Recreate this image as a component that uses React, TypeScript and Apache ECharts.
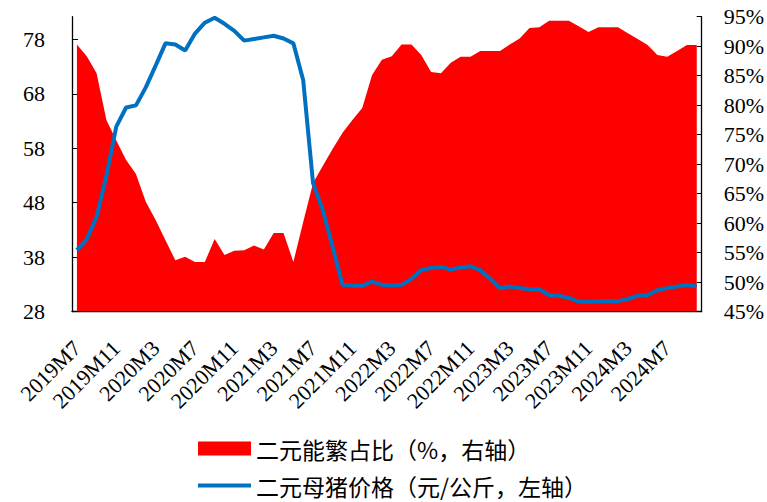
import React, { useEffect, useRef } from "react";
import * as echarts from "echarts";

const months: string[] = [
  "2019M7","2019M8","2019M9","2019M10","2019M11","2019M12",
  "2020M1","2020M2","2020M3","2020M4","2020M5","2020M6","2020M7","2020M8","2020M9","2020M10","2020M11","2020M12",
  "2021M1","2021M2","2021M3","2021M4","2021M5","2021M6","2021M7","2021M8","2021M9","2021M10","2021M11","2021M12",
  "2022M1","2022M2","2022M3","2022M4","2022M5","2022M6","2022M7","2022M8","2022M9","2022M10","2022M11","2022M12",
  "2023M1","2023M2","2023M3","2023M4","2023M5","2023M6","2023M7","2023M8","2023M9","2023M10","2023M11","2023M12",
  "2024M1","2024M2","2024M3","2024M4","2024M5","2024M6","2024M7","2024M8","2024M9","2024M10",
];

// 二元能繁占比 (%, right axis)
const sowShare: number[] = [
  90.3, 88.3, 85.4, 77.5, 74.0, 70.7, 68.3, 63.6, 60.5, 57.1,
  53.7, 54.3, 53.4, 53.4, 57.3, 54.6, 55.3, 55.4, 56.2, 55.5,
  58.3, 58.3, 53.4, 60.2, 66.8, 69.7, 72.6, 75.3, 77.5, 79.5,
  85.1, 87.7, 88.3, 90.3, 90.3, 88.5, 85.6, 85.4, 87.2, 88.2,
  88.2, 89.2, 89.2, 89.2, 90.3, 91.3, 93.1, 93.2, 94.3, 94.3,
  94.3, 93.4, 92.4, 93.2, 93.2, 93.2, 92.2, 91.2, 90.2, 88.5,
  88.2, 89.2, 90.2, 90.2,
];

// 二元母猪价格 (元/公斤, left axis)
const sowPrice: number[] = [
  39.3, 41.3, 45.4, 53.0, 62.0, 65.5, 65.9, 69.2, 73.2, 77.3,
  77.1, 76.0, 79.1, 81.1, 82.0, 80.9, 79.6, 77.8, 78.1, 78.4,
  78.7, 78.2, 77.3, 70.5, 51.6, 46.6, 39.8, 32.9, 32.8, 32.7,
  33.5, 32.9, 32.8, 32.9, 34.0, 35.6, 36.0, 36.2, 35.7, 36.1,
  36.3, 35.6, 34.0, 32.3, 32.6, 32.3, 32.1, 32.1, 31.0, 30.9,
  30.5, 29.8, 29.8, 29.9, 29.9, 29.9, 30.3, 30.9, 31.0, 31.9,
  32.3, 32.6, 32.9, 32.6,
];

const leftTicks: number[] = [28, 38, 48, 58, 68, 78];

const NAME_SHARE = "二元能繁占比（%，右轴）";
const NAME_PRICE = "二元母猪价格（元/公斤，左轴）";

const SERIF = "Times New Roman";
const CJK = "Noto Sans CJK SC";

export default function App() {
  const ref = useRef<HTMLDivElement>(null);

  useEffect(() => {
    if (!ref.current) return;
    const chart = echarts.init(ref.current, null, { renderer: "svg" });
    const axisLine = { show: true, lineStyle: { color: "#000", width: 1.3 } };
    const legendText = { fontFamily: CJK, fontSize: 23, color: "#000" };
    chart.setOption({
      animation: false,
      backgroundColor: "#fff",
      textStyle: { fontFamily: SERIF },
      grid: { left: 72, right: 65, top: 16.7, bottom: 190.5, containLabel: false },
      legend: [
        {
          left: 193,
          top: 432,
          itemWidth: 53,
          itemHeight: 14,
          textStyle: legendText,
          data: [{ name: NAME_SHARE, icon: "rect" }],
        },
        {
          left: 193,
          top: 469,
          itemWidth: 53,
          itemHeight: 4,
          textStyle: legendText,
          data: [{ name: NAME_PRICE, icon: "path://M0,0H53V4H0Z" }],
        },
      ],
      xAxis: {
        type: "category",
        data: months,
        boundaryGap: true,
        axisLine,
        axisTick: { show: true, inside: true, length: 6, interval: 3, lineStyle: { color: "#000" } },
        axisLabel: {
          interval: 3,
          rotate: 45,
          fontFamily: SERIF,
          fontSize: 22,
          color: "#000",
          margin: 33,
        },
        splitLine: { show: false },
      },
      yAxis: [
        {
          type: "value",
          position: "left",
          min: 28,
          max: 82.2,
          interval: 10,
          axisLine,
          axisTick: { show: true, inside: true, length: 6, customValues: leftTicks, lineStyle: { color: "#000" } },
          axisLabel: { fontFamily: SERIF, fontSize: 22, color: "#000", margin: 27, customValues: leftTicks },
          splitLine: { show: false },
        },
        {
          type: "value",
          position: "right",
          min: 45,
          max: 95,
          interval: 5,
          axisLine,
          axisTick: { show: true, inside: true, length: 5, lineStyle: { color: "#000" } },
          axisLabel: { fontFamily: SERIF, fontSize: 22, color: "#000", margin: 22, formatter: "{value}%" },
          splitLine: { show: false },
        },
      ],
      series: [
        {
          name: NAME_SHARE,
          type: "line",
          yAxisIndex: 1,
          data: sowShare,
          symbol: "none",
          lineStyle: { width: 0, color: "#FF0000" },
          itemStyle: { color: "#FF0000" },
          areaStyle: { color: "#FF0000", opacity: 1 },
          z: 1,
        },
        {
          name: NAME_PRICE,
          type: "line",
          yAxisIndex: 0,
          data: sowPrice,
          symbol: "none",
          lineStyle: { width: 4, color: "#0070C0" },
          itemStyle: { color: "#0070C0" },
          z: 2,
        },
      ],
    });
    return () => chart.dispose();
  }, []);

  return <div ref={ref} style={{ width: 767, height: 502, position: "absolute", left: 0, top: 0 }} />;
}
